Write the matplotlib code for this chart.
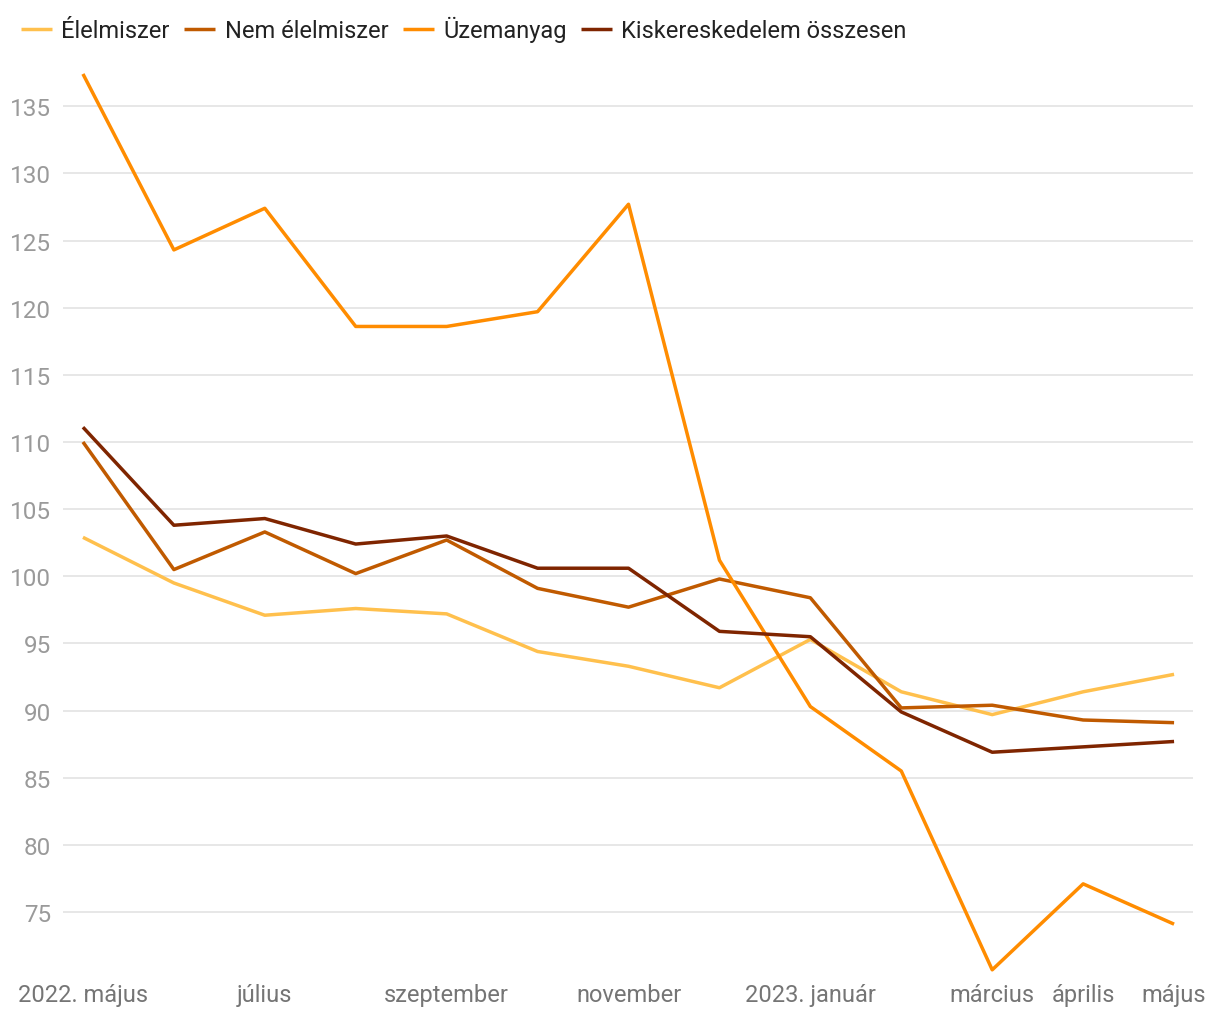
import matplotlib

matplotlib.use("Agg")
import matplotlib.pyplot as plt

plt.rcParams["font.family"] = ["Roboto", "DejaVu Sans"]

months = ["2022. május", "június", "július", "augusztus", "szeptember", "október",
          "november", "december", "2023. január", "február", "március", "április", "május"]
shown_labels = {0, 2, 4, 6, 8, 10, 11, 12}

elelmiszer = [102.9, 99.5, 97.1, 97.6, 97.2, 94.4, 93.3, 91.7, 95.3, 91.4, 89.7, 91.4, 92.7]
nem_elelmiszer = [110.0, 100.5, 103.3, 100.2, 102.7, 99.1, 97.7, 99.8, 98.4, 90.2, 90.4, 89.3, 89.1]
uzemanyag = [137.4, 124.3, 127.4, 118.6, 118.6, 119.7, 127.7, 101.2, 90.3, 85.5, 70.7, 77.1, 74.1]
kisker = [111.1, 103.8, 104.3, 102.4, 103.0, 100.6, 100.6, 95.9, 95.5, 89.9, 86.9, 87.3, 87.7]

series = [
    ("Élelmiszer", elelmiszer, "#ffc04d"),
    ("Nem élelmiszer", nem_elelmiszer, "#c05a00"),
    ("Üzemanyag", uzemanyag, "#ff8c00"),
    ("Kiskereskedelem összesen", kisker, "#7f2500"),
]

fig = plt.figure(figsize=(12.2, 10.2), dpi=100)
ax = fig.add_axes([0.0516, 0.039, 0.9264, 0.902])

x = list(range(len(months)))
for name, vals, col in series:
    ax.plot(x, vals, color=col, lw=2.5, label=name, solid_capstyle="butt")

ax.set_xlim(-0.22, 12.21)
ax.set_ylim(70.0, 138.5)
ax.set_yticks(range(75, 136, 5))
ax.grid(axis="y", color="#e3e3e3", lw=1.2)
ax.set_axisbelow(True)
for s in ax.spines.values():
    s.set_visible(False)
ax.tick_params(axis="y", length=0, pad=8.5, labelsize=17.5, labelcolor="#9a9a9a")
ax.set_xticks([i for i in x if i in shown_labels])
ax.set_xticklabels([months[i] for i in x if i in shown_labels])
ax.tick_params(axis="x", length=0, pad=3, labelsize=17, labelcolor="#757575")

fig.legend(loc="upper left", bbox_to_anchor=(0.0, 1.004), ncol=4, frameon=False,
           fontsize=17, handlelength=1.3, handletextpad=0.4, columnspacing=0.62,
           labelcolor="#222222")

fig.savefig("out.png", dpi=100)
